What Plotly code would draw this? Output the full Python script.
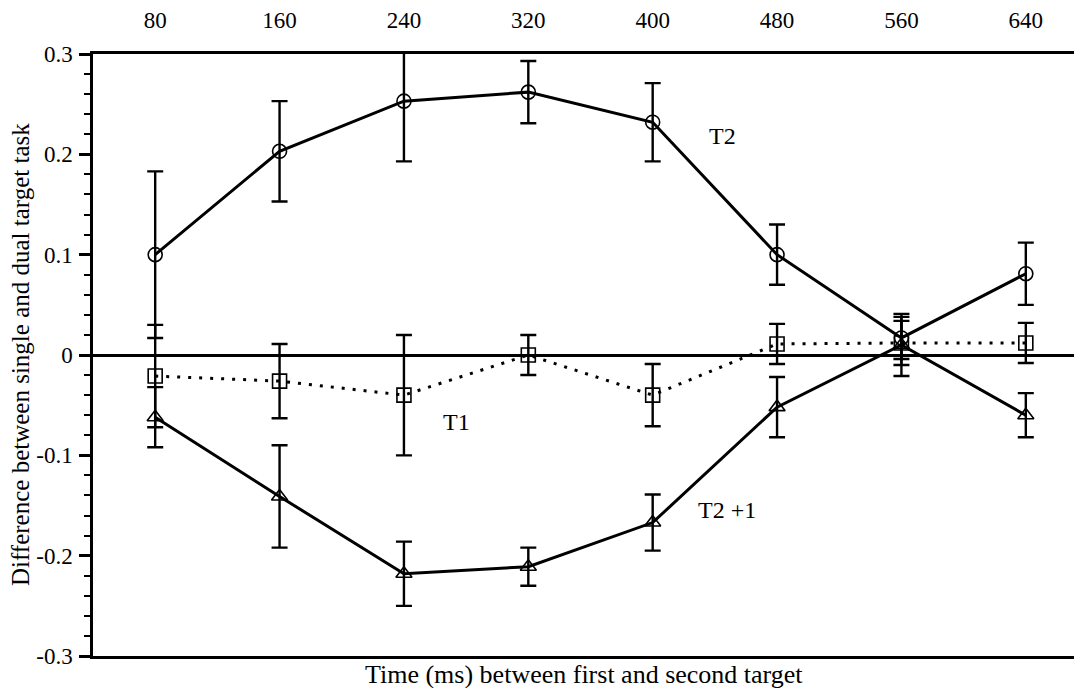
import plotly.graph_objects as go

# Lag between first and second target (ms)
lags = [80, 160, 240, 320, 400, 480, 560, 640]

# Single-task minus dual-task accuracy, with error-bar half widths
t2_diff = [0.100, 0.203, 0.253, 0.262, 0.232, 0.100, 0.017, 0.081]
t2_err = [0.083, 0.050, 0.060, 0.031, 0.039, 0.030, 0.021, 0.031]

t1_diff = [-0.021, -0.026, -0.040, 0.000, -0.040, 0.011, 0.012, 0.012]
t1_err = [0.051, 0.037, 0.060, 0.020, 0.031, 0.020, 0.022, 0.020]

t2p1_diff = [-0.062, -0.141, -0.218, -0.211, -0.167, -0.052, 0.010, -0.060]
t2p1_err = [0.030, 0.051, 0.032, 0.019, 0.028, 0.030, 0.031, 0.022]

y_ticks = [-0.3, -0.2, -0.1, 0, 0.1, 0.2, 0.3]
y_tick_text = ["-0.3", "-0.2", "-0.1", "0", "0.1", "0.2", "0.3"]

series_labels = [("T2", 445, 0.218), ("T1", 274, -0.067), ("T2 +1", 448, -0.154)]

serif = "Liberation Serif, Times New Roman, serif"


def err(vals):
    return dict(type="data", array=vals, symmetric=True, color="black",
                thickness=2.4, width=8)


fig = go.Figure()

fig.add_trace(go.Scatter(
    x=lags, y=t1_diff, mode="lines+markers", name="T1",
    line=dict(color="black", width=3, dash="3px,8px"),
    marker=dict(symbol="square-open", size=14, color="black",
                line=dict(width=1.6, color="black")),
    error_y=err(t1_err),
))

fig.add_trace(go.Scatter(
    x=lags, y=t2_diff, mode="lines+markers", name="T2",
    line=dict(color="black", width=3),
    marker=dict(symbol="circle-open", size=14, color="black",
                line=dict(width=1.6, color="black")),
    error_y=err(t2_err),
))

fig.add_trace(go.Scatter(
    x=lags, y=t2p1_diff, mode="lines+markers", name="T2 +1",
    line=dict(color="black", width=3),
    marker=dict(symbol="triangle-up-open", size=14, color="black",
                line=dict(width=1.6, color="black")),
    error_y=err(t2p1_err),
))

for text, lx, ly in series_labels:
    fig.add_annotation(x=lx, y=ly, text=text, showarrow=False,
                       font=dict(family=serif, size=24, color="black"))

fig.add_annotation(
    text="Time (ms) between first and second target",
    xref="paper", yref="paper", x=0.5, y=0, xanchor="center", yanchor="top",
    yshift=-2, showarrow=False,
    font=dict(family=serif, size=26, color="black"),
)
fig.add_annotation(
    text="Difference between single and dual target task",
    xref="paper", yref="paper", x=0, y=0.5, xanchor="center", yanchor="middle",
    xshift=-73, textangle=-90, showarrow=False,
    font=dict(family=serif, size=25, color="black"),
)

fig.update_layout(
    width=1074, height=688,
    margin=dict(l=93, r=0, t=54, b=32),
    paper_bgcolor="white", plot_bgcolor="white",
    showlegend=False,
    xaxis=dict(
        side="top", range=[40, 671], tickvals=lags,
        ticktext=[str(v) for v in lags],
        ticks="", showgrid=False, zeroline=False,
        showline=True, linecolor="black", linewidth=2.5, mirror=True,
        ticklabelstandoff=14,
        tickfont=dict(family=serif, size=23, color="black"),
    ),
    yaxis=dict(
        range=[-0.3, 0.3], tickvals=y_ticks, ticktext=y_tick_text,
        ticks="outside", ticklen=11, tickwidth=2.5, tickcolor="black",
        minor=dict(dtick=0.02, ticks="outside", ticklen=6, tickwidth=2,
                   tickcolor="black"),
        showgrid=False, zeroline=True, zerolinecolor="black", zerolinewidth=2.5,
        showline=True, linecolor="black", linewidth=2.5, mirror=False,
        ticklabelstandoff=2,
        tickfont=dict(family=serif, size=23, color="black"),
    ),
)

fig.write_html("out.html")
